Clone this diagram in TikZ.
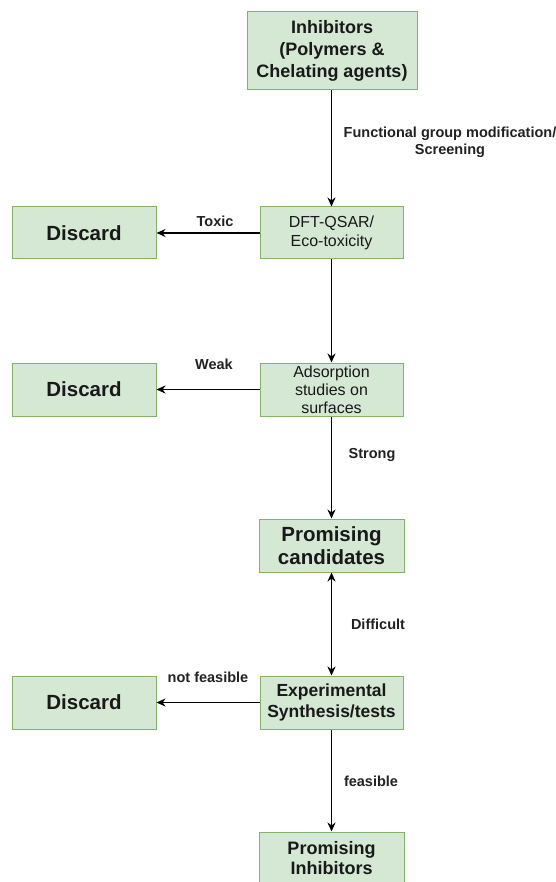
\documentclass[tikz,border=0pt]{standalone}
\usepackage{fontspec}
\setmainfont{Liberation Sans}
\usetikzlibrary{arrows.meta}
\definecolor{boxfill}{HTML}{D5E8D4}
\definecolor{boxline}{HTML}{82B366}
\definecolor{labtext}{HTML}{222222}
\begin{document}
\begin{tikzpicture}[x=1pt,y=-1pt,
  box/.style={draw=boxline,fill=boxfill,line width=1pt,inner sep=0pt,align=center,text=black!90},
  arr/.style={draw=black,line width=1.6pt,-{Stealth[length=9pt,width=8pt]}},
  lab/.style={font=\fontsize{14.5}{17}\selectfont\bfseries,text=labtext,align=center,inner sep=0pt}]
\useasboundingbox (0,0) rectangle (555,882);
\fill[white] (0,0) rectangle (555,882);
% boxes
\node[box,minimum width=170pt,minimum height=78pt,font=\fontsize{18}{21.7}\selectfont\bfseries] (inh) at (332,51) {Inhibitors\\(Polymers \&\\Chelating agents)};
\node[box,minimum width=143pt,minimum height=52pt,font=\fontsize{16}{18.5}\selectfont] (dft) at (331.5,233) {DFT-QSAR/\\Eco-toxicity};
\node[box,minimum width=144pt,minimum height=52pt,font=\fontsize{20.5}{24}\selectfont\bfseries] (d1) at (84,233) {Discard};
\node[box,minimum width=143pt,minimum height=53pt,font=\fontsize{16}{18}\selectfont] (ads) at (331.5,389.5) {Adsorption\\studies on\\surfaces};
\node[box,minimum width=144pt,minimum height=53pt,font=\fontsize{20.5}{24}\selectfont\bfseries] (d2) at (84,389.5) {Discard};
\node[box,minimum width=145pt,minimum height=53pt,font=\fontsize{20.5}{23}\selectfont\bfseries] (pc) at (331.5,545.5) {Promising\\candidates};
\node[box,minimum width=143pt,minimum height=53pt,font=\fontsize{17.5}{20.5}\selectfont\bfseries] (exp) at (331.5,702.5) {Experimental\\Synthesis/tests};
\node[box,minimum width=144pt,minimum height=53pt,font=\fontsize{20.5}{24}\selectfont\bfseries] (d3) at (84,702.5) {Discard};
\node[box,minimum width=145pt,minimum height=53pt,font=\fontsize{18}{20}\selectfont\bfseries] (pi) at (331.5,858.5) {Promising\\Inhibitors};
% connectors
\draw[arr] (inh.south -| dft.north) -- (dft.north);
\draw[arr] (dft.west) -- (d1.east);
\draw[arr] (dft.south) -- (ads.north);
\draw[arr] (ads.west) -- (d2.east);
\draw[arr] (ads.south) -- (pc.north);
\draw[arr,{Stealth[length=9pt,width=8pt]}-{Stealth[length=9pt,width=8pt]}] (pc.south) -- (exp.north);
\draw[arr] (exp.west) -- (d3.east);
\draw[arr] (exp.south) -- (pi.north);
% labels
\node[lab] (l1) at (450,142) {Functional group modification/\\Screening};
\node[lab] (l2) at (215,221) {Toxic};
\node[lab] (l3) at (214,364) {Weak};
\node[lab] (l4) at (372,455) {Strong};
\node[lab] (l5) at (378,624) {Difficult};
\node[lab] (l6) at (208,677) {not feasible};
\node[lab] (l7) at (371,781) {feasible};
\end{tikzpicture}
\end{document}
